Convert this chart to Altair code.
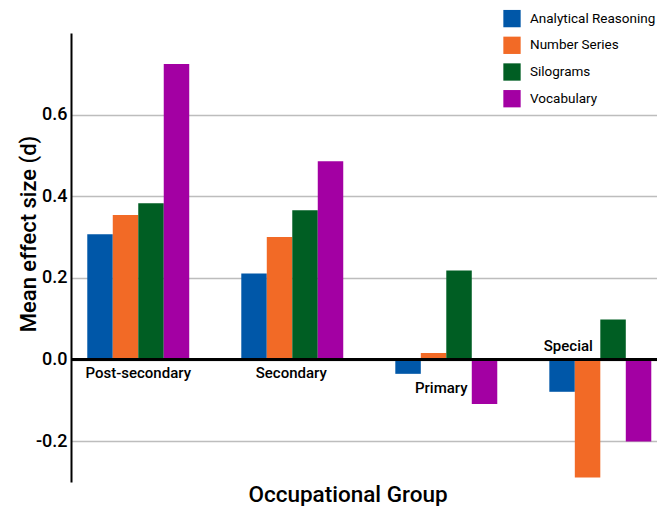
import altair as alt
import pandas as pd

FONT = "Roboto"

groups = ["Post-secondary", "Secondary", "Primary", "Special"]
series = ["Analytical Reasoning", "Number Series", "Silograms", "Vocabulary"]
analytical = [0.307, 0.211, -0.035, -0.079]
number_series = [0.354, 0.300, 0.016, -0.289]
silograms = [0.383, 0.366, 0.218, 0.098]
vocabulary = [0.724, 0.486, -0.109, -0.201]
colors = ["#0057A8", "#F26A26", "#005E23", "#A300A3"]
y_ticks = [-0.2, 0.0, 0.2, 0.4, 0.6]
label_y = [-0.033, -0.033, -0.069, 0.033]
label_dx = [0, -1, -5, -32]

rows = []
for name, vals in zip(series, [analytical, number_series, silograms, vocabulary]):
    for g, v in zip(groups, vals):
        rows.append({"group": g, "series": name, "value": v})
df = pd.DataFrame(rows)

x_scale = alt.Scale(domain=groups, paddingInner=0.338, paddingOuter=0.0714, align=0.74)
y_scale = alt.Scale(domain=[-0.3, 0.8], nice=False, zero=False)

bars = alt.Chart(df).mark_bar().encode(
    x=alt.X("group:N", sort=groups, scale=x_scale,
            axis=alt.Axis(title="Occupational Group", labels=False, ticks=False,
                          domain=False, grid=False, titleX=276.5, titleY=19,
                          titleAlign="center", titleBaseline="alphabetic",
                          titleFontSize=22.5, titleFontWeight=500, titleFont=FONT,
                          titleColor="black")),
    xOffset=alt.XOffset("series:N", sort=series,
                        scale=alt.Scale(domain=series, paddingInner=0, paddingOuter=0)),
    y=alt.Y("value:Q", scale=y_scale,
            axis=alt.Axis(values=y_ticks,
                          labelExpr="datum.value < 0 ? '-' + format(-datum.value, '.1f') : format(datum.value, '.1f')",
                          title="Mean effect size (d)", grid=True, gridColor="#BDBDBD",
                          gridWidth=1.5, domainColor="black", domainWidth=2, ticks=False,
                          labelPadding=4, labelFontSize=18, labelFontWeight=500,
                          labelFont=FONT, labelColor="black", titleFontSize=22,
                          titleFontWeight=500, titleFont=FONT, titleColor="black",
                          titleX=-42.5, titleY=200.5, titleBaseline="middle",
                          titleAlign="center", titleAngle=270)),
    color=alt.Color("series:N", sort=series,
                    scale=alt.Scale(domain=series, range=colors),
                    legend=alt.Legend(orient="none", legendX=432, legendY=-23.4, title=None,
                                      symbolType="square", symbolSize=300,
                                      symbolStrokeWidth=0, labelFontSize=13.5,
                                      labelFont=FONT, labelOffset=9, rowPadding=8.7,
                                      padding=0, labelColor="black", symbolOpacity=1)),
)

zero = alt.Chart(df).mark_rule(color="black", strokeWidth=2).encode(y=alt.datum(0))

layers = [bars, zero]
for i, g in enumerate(groups):
    lab = pd.DataFrame({"group": [g], "ly": [label_y[i]]})
    layers.append(
        alt.Chart(lab).mark_text(dx=label_dx[i], font=FONT, fontSize=15, fontWeight=500,
                                 color="black", baseline="middle", align="center")
        .encode(x=alt.X("group:N", sort=groups, scale=x_scale),
                y=alt.Y("ly:Q", scale=y_scale),
                text="group:N")
    )

chart = alt.layer(*layers).properties(
    width=586, height=449,
    autosize=alt.AutoSizeParams(type="none"),
    padding={"left": 63, "top": 25, "right": 0, "bottom": 24},
).configure_view(stroke=None)

chart.save("out.html", embed_options={"renderer": "svg", "actions": False})
